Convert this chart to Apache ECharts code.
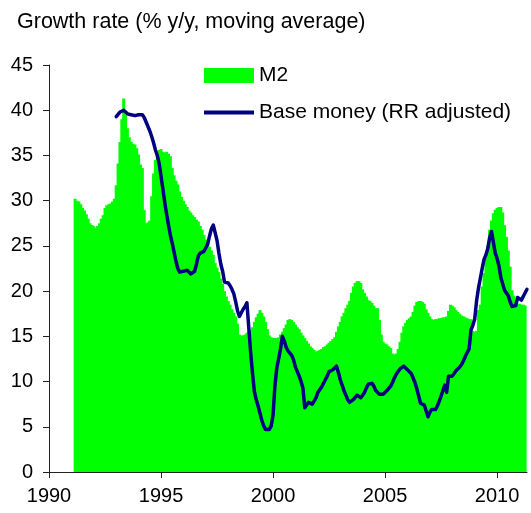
<!DOCTYPE html>
<html>
<head>
<meta charset="utf-8">
<script src="https://cdn.jsdelivr.net/npm/echarts@6/dist/echarts.min.js"></script>
<style>
html,body{margin:0;padding:0;background:#fff;}
#chart{width:531px;height:513px;}
</style>
</head>
<body>
<div id="chart"></div>
<script>
// Monthly M2 growth (% y/y), starting March 1991
var m2Start = 1991 + 2 / 12;
var m2 = [
  30.2, 30.0, 29.9, 29.6, 29.2, 28.9, 28.5, 28.0, 27.5, 27.3,
  27.2, 27.0, 27.2, 27.5, 28.0, 28.4, 29.2, 29.5, 29.6, 29.7,
  29.9, 30.2, 31.7, 34.1, 36.5, 39.0, 41.3, 39.5, 38.0, 37.0,
  36.5, 36.3, 36.2, 35.8, 35.1, 34.0, 33.6, 29.0, 27.5, 27.6,
  27.8, 30.5, 33.0, 34.5, 35.4, 35.6, 35.7, 35.4, 35.3, 35.4,
  35.2, 34.9, 33.6, 32.8, 32.2, 31.8, 31.0, 30.4, 30.0, 29.6,
  29.3, 28.9, 28.7, 28.4, 28.2, 27.9, 27.7, 27.2, 26.8, 26.2,
  25.7, 25.3, 24.9, 24.5, 24.0, 23.1, 22.6, 22.1, 21.4, 20.8,
  20.0, 19.4, 18.9, 18.5, 18.0, 17.6, 17.2, 16.4, 15.2, 15.1,
  15.1, 15.2, 15.4, 15.6, 15.7, 16.0, 16.6, 17.1, 17.5, 17.9,
  17.6, 17.2, 16.6, 15.8, 15.1, 14.9, 14.8, 14.8, 14.8, 14.9,
  15.2, 15.5, 15.9, 16.3, 16.8, 16.9, 16.8, 16.6, 16.3, 16.0,
  15.8, 15.4, 15.1, 14.8, 14.5, 14.2, 13.9, 13.7, 13.5, 13.3,
  13.4, 13.5, 13.6, 13.8, 13.9, 14.1, 14.3, 14.5, 14.7, 14.9,
  15.5, 16.1, 16.6, 17.2, 17.6, 18.1, 18.5, 18.9, 19.8, 20.5,
  20.9, 21.1, 21.1, 20.9, 20.2, 19.8, 19.4, 19.0, 18.9, 18.7,
  18.4, 18.1, 18.1, 16.8, 15.2, 14.4, 14.2, 14.1, 13.9, 13.7,
  13.1, 13.0, 13.1, 13.6, 14.4, 15.4, 16.1, 16.5, 16.8, 17.0,
  17.2, 17.7, 18.4, 18.8, 18.9, 18.9, 18.8, 18.6, 18.0, 17.6,
  17.2, 16.9, 16.8, 16.9, 16.9, 17.0, 17.0, 17.1, 17.1, 17.2,
  17.8, 18.5, 18.4, 18.2, 17.9, 17.7, 17.5, 17.3, 17.2, 17.1,
  17.0, 16.9, 16.9, 15.6, 15.5, 15.6, 17.9, 18.5, 20.5, 22.0,
  24.0, 25.0, 26.8, 27.8, 28.6, 29.0, 29.2, 29.3, 29.3, 28.7,
  27.3, 26.0, 24.5, 22.7, 20.1, 19.5, 18.8, 18.6, 18.6, 18.5,
  18.5, 18.4
];

// Monthly base money (RR adjusted) growth, starting January 1993
var baseStart = 1993;
var baseMoney = [
  39.3, 39.5, 39.8, 40.0, 40.0, 39.8, 39.6, 39.6, 39.5, 39.5, 39.4, 39.3,
  39.5, 39.6, 39.5, 39.2, 38.7, 38.2, 37.7, 37.1, 36.4, 35.6, 35.0, 34.1,
  32.7, 31.3, 29.8, 28.5, 27.3, 26.2, 25.3, 24.3, 23.3, 22.5, 22.1, 22.1,
  22.2, 22.4, 22.3, 22.1, 21.9, 21.7, 22.2, 23.0, 23.9, 24.2, 24.3, 24.4,
  24.8, 25.2, 26.1, 26.9, 27.3, 27.2, 25.6, 24.2, 23.0, 22.2, 21.0, 21.1,
  20.9, 20.6, 20.2, 19.7, 18.8, 17.8, 17.2, 17.6, 18.0, 18.3, 18.7, 16.0,
  13.2, 10.9, 8.9, 8.0, 7.3, 6.5, 5.7, 5.1, 4.7, 4.6, 4.7, 5.1,
  6.3, 9.5, 11.5, 12.5, 13.6, 15.0, 14.5, 13.8, 13.4, 13.2, 12.9, 12.4,
  11.6, 11.1, 10.6, 10.0, 9.3, 7.1, 7.3, 7.7, 7.8, 7.5, 7.6, 8.2,
  8.8, 9.1, 9.4, 9.8, 10.2, 10.6, 11.1, 11.2, 11.3, 11.5, 11.7, 11.0,
  10.2, 9.6, 9.0, 8.5, 8.0, 7.7, 7.8, 8.0, 8.2, 8.5, 8.4, 8.2,
  8.4, 8.8, 9.3, 9.7, 9.8, 9.8, 9.5, 9.0, 8.9, 8.6, 8.4, 8.6,
  8.8, 9.0, 9.2, 9.5, 9.9, 10.4, 10.8, 11.1, 11.4, 11.6, 11.7, 11.5,
  11.3, 11.1, 10.9, 10.7, 9.9, 9.2, 8.4, 7.6, 7.5, 7.4, 7.3, 6.1,
  6.6, 6.9, 6.9, 6.9, 7.3, 7.8, 8.4, 9.0, 9.6, 8.8, 10.6, 10.8,
  10.6, 10.8, 11.2, 11.4, 11.6, 11.9, 12.3, 12.8, 13.2, 13.6, 15.7, 16.2,
  16.9, 18.9, 20.3, 21.4, 22.5, 23.5, 24.0, 24.7, 25.9, 26.6, 26.8, 24.2,
  23.6, 22.8, 21.5, 20.8, 20.1, 19.8, 19.5, 18.8, 18.3, 18.2, 18.4, 19.3,
  19.2, 19.0, 19.4, 19.6, 20.2
];

var xTicks = [1990, 1995, 2000, 2005, 2010];
var yTicks = [0, 5, 10, 15, 20, 25, 30, 35, 40, 45];
var titleText = 'Growth rate (% y/y, moving average)';
var seriesNames = ['M2', 'Base money (RR adjusted)'];

var FONT = "'Liberation Sans', Arial, sans-serif";

var m2Data = m2.map(function (v, i) { return [m2Start + i / 12, v]; });
var baseData = baseMoney.map(function (v, i) { return [baseStart + i / 12, v]; });

var chart = echarts.init(document.getElementById('chart'), null, { renderer: 'canvas' });
chart.setOption({
  animation: false,
  backgroundColor: '#ffffff',
  title: {
    text: titleText,
    left: 17, top: 11, padding: 0,
    textStyle: { fontFamily: FONT, fontSize: 21.5, fontWeight: 'normal', color: '#000' }
  },
  legend: {
    orient: 'vertical',
    left: 204, top: 65, padding: 0,
    itemWidth: 50, itemHeight: 15, itemGap: 16,
    symbolKeepAspect: true,
    textStyle: { fontFamily: FONT, fontSize: 21, color: '#000' },
    data: [
      { name: seriesNames[0], icon: 'rect' },
      { name: seriesNames[1], icon: 'path://M0,0 L100,0 L100,8 L0,8 Z', itemStyle: { color: '#000080' } }
    ]
  },
  grid: { left: 49, right: 4, top: 65, bottom: 41, containLabel: false },
  xAxis: {
    type: 'value',
    min: 1990, max: 2011.335, interval: 5,
    axisLine: { show: true, lineStyle: { color: '#222', width: 1 } },
    axisTick: { show: true, length: 6, inside: false, customValues: xTicks, lineStyle: { color: '#222' } },
    axisLabel: { customValues: xTicks, margin: 14, fontFamily: FONT, fontSize: 20, color: '#000',
      formatter: function (v) { return String(v); } },
    splitLine: { show: false }
  },
  yAxis: {
    type: 'value',
    min: 0, max: 45, interval: 5,
    axisLine: { show: true, lineStyle: { color: '#222', width: 1 } },
    axisTick: { show: true, length: 6, lineStyle: { color: '#222' } },
    axisLabel: { margin: 16, fontFamily: FONT, fontSize: 20, color: '#000' },
    splitLine: { show: false }
  },
  series: [
    {
      name: seriesNames[0],
      type: 'bar',
      data: m2Data,
      barWidth: 3,
      itemStyle: { color: '#00ff00' },
      emphasis: { disabled: true }
    },
    {
      name: seriesNames[1],
      type: 'line',
      data: baseData,
      showSymbol: false,
      symbol: 'none',
      lineStyle: { color: '#000080', width: 3.5, cap: 'round', join: 'round' },
      itemStyle: { color: '#000080' },
      emphasis: { disabled: true }
    }
  ]
});
</script>
</body>
</html>
